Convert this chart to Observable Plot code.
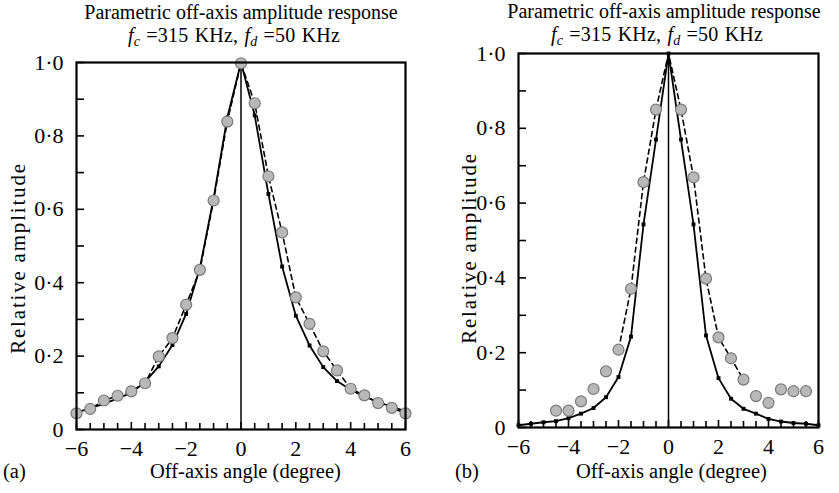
<!DOCTYPE html>
<html><head><meta charset="utf-8">
<script src="https://cdn.jsdelivr.net/npm/d3@7"></script>
<script src="https://cdn.jsdelivr.net/npm/@observablehq/plot@0.6"></script>
<style>
body{margin:0;background:#fff;font-family:"Liberation Serif","Times New Roman",serif;}
#wrap{position:relative;width:839px;height:493px;overflow:hidden;background:#fff}
#wrap svg{position:absolute;top:0}
.t{position:absolute;white-space:nowrap;font-size:20px;color:#000;transform:translateX(-50%);line-height:normal}
.t2{letter-spacing:0.2px;word-spacing:1px}
.t sub{font-size:14px;line-height:0;vertical-align:-0.25em}
.lab{position:absolute;white-space:nowrap;font-size:20.5px;color:#000;line-height:1}
.ylab{position:absolute;white-space:nowrap;font-size:21px;letter-spacing:1.8px;color:#000;line-height:1;transform:translate(-50%,-50%) rotate(-90deg)}
</style></head><body><div id="wrap"></div>
<script>
// ---- data ----
const angles = [-6,-5.5,-5,-4.5,-4,-3.5,-3,-2.5,-2,-1.5,-1,-0.5,0,0.5,1,1.5,2,2.5,3,3.5,4,4.5,5,5.5,6];
// panel (a)
const measuredA = [0.044,0.056,0.079,0.092,0.104,0.126,0.199,0.249,0.340,0.435,0.624,0.839,0.998,0.889,0.690,0.537,0.360,0.288,0.213,0.161,0.111,0.093,0.072,0.059,0.044];
const theoryA   = [0.046,0.058,0.070,0.085,0.100,0.130,0.172,0.230,0.315,0.440,0.630,0.850,1.000,0.856,0.642,0.444,0.310,0.229,0.170,0.132,0.108,0.090,0.075,0.062,0.050];
// panel (b)
const circleAnglesB = [-4.5,-4,-3.5,-3,-2.5,-2,-1.5,-1,-0.5,0.5,1,1.5,2,2.5,3,3.5,4,4.5,5,5.5];
const measuredB     = [0.045,0.045,0.070,0.103,0.150,0.208,0.371,0.656,0.850,0.850,0.669,0.398,0.241,0.185,0.128,0.084,0.066,0.102,0.097,0.097];
const dashAnglesB   = [-2,-1.5,-1,-0.5,0,0.5,1,1.5,2,2.5,3];
const dashValuesB   = [0.208,0.371,0.656,0.850,1.000,0.850,0.669,0.398,0.241,0.185,0.128];
const theoryB       = [0.006,0.010,0.014,0.017,0.025,0.037,0.052,0.081,0.135,0.243,0.543,0.770,1.000,0.770,0.543,0.246,0.132,0.077,0.050,0.037,0.023,0.016,0.012,0.010,0.006];
// ticks
const yTicks = [0,0.2,0.4,0.6,0.8,1.0];
const yMinor = [0.1,0.3,0.5,0.7,0.9];
const xTicks = [-6,-4,-2,0,2,4,6];
const xMinor = [-5.5,-5,-4.5,-3.5,-3,-2.5,-1.5,-1,-0.5,0.5,1,1.5,2.5,3,3.5,4.5,5,5.5];
const yLabel = "Relative amplitude";
const xLabel = "Off-axis angle (degree)";

const fmtY = d => d === 0 ? "0" : d.toFixed(1).replace(".", "·");
const fmtX = d => d < 0 ? "−" + Math.abs(d) : String(d);

function panel({width, ml, mr, mt, mb, circlesX, circlesY, dashX, dashY, theory}) {
  const circ = circlesX.map((x, i) => ({x, y: circlesY[i]}));
  const dash = dashX.map((x, i) => ({x, y: dashY[i]}));
  const th = angles.map((x, i) => ({x, y: theory[i]}));
  return Plot.plot({
    width, height: 493,
    marginLeft: ml, marginRight: mr, marginTop: mt, marginBottom: mb,
    style: {fontFamily: '"Liberation Serif", serif', fontSize: "22px", color: "#000", background: "transparent"},
    x: {domain: [-6, 6]},
    y: {domain: [0, 1]},
    marks: [
      Plot.axisY(yTicks, {tickSize: -8, tickPadding: 21, tickFormat: fmtY, strokeWidth: 1.6, label: null, fontSize: 22}),
      Plot.axisY(yMinor, {tickSize: -8, tickFormat: () => "", strokeWidth: 1.6, label: null}),
      Plot.axisX(xTicks, {tickSize: -7, tickPadding: 18, tickFormat: fmtX, strokeWidth: 1.6, label: null, fontSize: 22}),
      Plot.axisX(xMinor, {tickSize: -6, tickFormat: () => "", strokeWidth: 1.6, label: null}),
      Plot.ruleX([0], {stroke: "#000", strokeWidth: 1.5}),
      Plot.line(dash, {x: "x", y: "y", stroke: "#000", strokeWidth: 1.6, strokeDasharray: "5,4"}),
      Plot.line(th, {x: "x", y: "y", stroke: "#000", strokeWidth: 1.8}),
      Plot.dot(th, {x: "x", y: "y", symbol: "square", r: 2.2, fill: "#000", stroke: "none"}),
      Plot.dot(circ, {x: "x", y: "y", r: 5.5, fill: "#b8b8b8", stroke: "#7a7a7a", strokeWidth: 1.2}),
      Plot.frame({stroke: "#000", strokeWidth: 2.2})
    ]
  });
}

const wrap = document.getElementById("wrap");
const a = panel({width: 420, ml: 76, mr: 15, mt: 62, mb: 64,
  circlesX: angles, circlesY: measuredA, dashX: angles, dashY: measuredA, theory: theoryA});
a.style.left = "0px";
wrap.appendChild(a);
const b = panel({width: 419, ml: 98, mr: 21, mt: 53, mb: 66,
  circlesX: circleAnglesB, circlesY: measuredB, dashX: dashAnglesB, dashY: dashValuesB, theory: theoryB});
b.style.left = "420px";
wrap.appendChild(b);

function add(cls, html, x, y) {
  const d = document.createElement("div");
  d.className = cls; d.innerHTML = html;
  d.style.left = x + "px"; d.style.top = y + "px";
  wrap.appendChild(d);
}
const title1 = "Parametric off-axis amplitude response";
const title2 = "<i>f</i><sub><i>c</i></sub> =315 KHz, <i>f</i><sub><i>d</i></sub> =50 KHz";
add("t", title1, 241, 1);
add("t t2", title2, 234, 24);
add("t", title1, 664, 0);
add("t t2", title2, 657, 23);
add("ylab", yLabel, 18, 258);
add("ylab", yLabel, 469, 248);
add("lab", xLabel, 150, 461);
add("lab", xLabel, 576, 461);
add("lab", "(a)", 3, 461);
add("lab", "(b)", 455, 461);
</script></body></html>
